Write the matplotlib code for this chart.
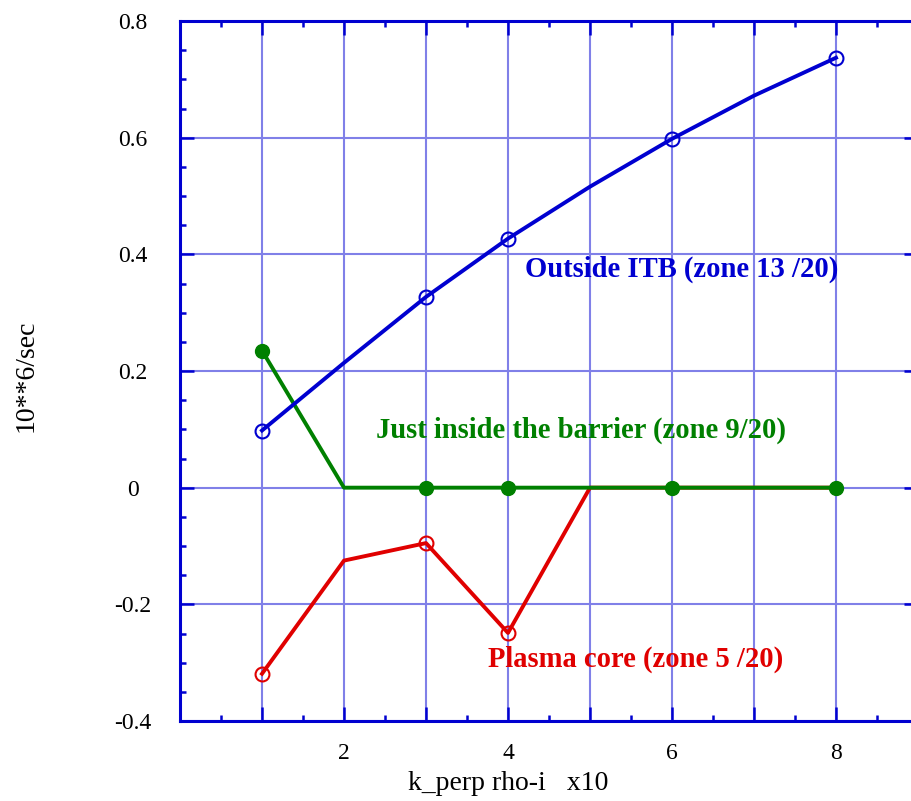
import matplotlib
matplotlib.use("Agg")
import matplotlib.pyplot as plt
from matplotlib.ticker import MultipleLocator, FuncFormatter

# growth rates vs k_perp rho-i (x10), three radial zones
k_vals = [1, 2, 3, 4, 5, 6, 7, 8]
outside_itb = [0.098, 0.214, 0.327, 0.427, 0.516, 0.598, 0.672, 0.737]
inside_barrier = [0.235, 0.0, 0.0, 0.0, 0.0, 0.0, 0.0, 0.0]
plasma_core = [-0.319, -0.125, -0.095, -0.249, 0.0, 0.0, 0.0, 0.0]

# points that carry a marker
outside_mark_k = [1, 3, 4, 6, 8]
inside_mark_k = [1, 3, 4, 6, 8]
core_mark_k = [1, 3, 4]

BLUE = "#0000d0"
GREEN = "#008000"
RED = "#e00000"
GRID = "#8080e8"

plt.rcParams["font.family"] = ["Liberation Serif", "DejaVu Serif"]

fig = plt.figure(figsize=(9.11, 8.01), dpi=100)
ax = fig.add_axes([180 / 911, 80 / 801, 738 / 911, 700 / 801])


def pick(xs, ys, keep):
    return [y for x, y in zip(xs, ys) if x in keep]


lw = 2.8
ax.plot(k_vals, plasma_core, color=RED, lw=lw, zorder=3)
ax.plot(core_mark_k, pick(k_vals, plasma_core, core_mark_k), "o", ms=10,
        mfc="none", mec=RED, mew=1.5, zorder=3)

ax.plot(k_vals, inside_barrier, color=GREEN, lw=lw, zorder=4)
ax.plot(inside_mark_k, pick(k_vals, inside_barrier, inside_mark_k), "o", ms=10,
        mfc=GREEN, mec=GREEN, zorder=4)

ax.plot(k_vals, outside_itb, color=BLUE, lw=lw, zorder=5)
ax.plot(outside_mark_k, pick(k_vals, outside_itb, outside_mark_k), "o", ms=10,
        mfc="none", mec=BLUE, mew=1.5, zorder=5)

label_size = 20.6
ax.text(4.21, 0.374, "Outside ITB (zone 13 /20)", color=BLUE, fontsize=label_size,
        fontweight="bold", ha="left", va="center", zorder=6)
ax.text(2.39, 0.098, "Just inside the barrier (zone 9/20)", color=GREEN,
        fontsize=label_size, fontweight="bold", ha="left", va="center", zorder=6)
ax.text(3.76, -0.295, "Plasma core (zone 5 /20)", color=RED, fontsize=label_size,
        fontweight="bold", ha="left", va="center", zorder=6)

ax.set_xlim(0, 9)
ax.set_ylim(-0.4, 0.8)
ax.xaxis.set_major_locator(MultipleLocator(1))
ax.xaxis.set_minor_locator(MultipleLocator(0.5))
ax.yaxis.set_major_locator(MultipleLocator(0.2))
ax.yaxis.set_minor_locator(MultipleLocator(0.05))

ax.xaxis.set_major_formatter(FuncFormatter(
    lambda v, p: f"{int(round(v))}" if round(v) in (2, 4, 6, 8) else ""))
ax.yaxis.set_major_formatter(FuncFormatter(
    lambda v, p: "0" if abs(v) < 1e-9 else f"{v:.1f}"))

ax.grid(True, which="major", color=GRID, lw=1.5)
ax.set_axisbelow(True)

for s in ax.spines.values():
    s.set_color(BLUE)
    s.set_linewidth(2.2)

ax.tick_params(which="both", direction="in", top=True, right=True,
               color=BLUE, labelsize=17, labelcolor="black")
ax.tick_params(which="major", length=10, width=1.8)
ax.tick_params(which="minor", length=4.5, width=1.8)
ax.tick_params(axis="x", which="major", pad=16)
ax.tick_params(axis="y", which="major", pad=34)
for lab in ax.get_yticklabels():
    lab.set_horizontalalignment("center")

fig.text(26 / 911, 1 - 376 / 801, "10**6/sec", rotation=90, fontsize=20,
         ha="center", va="center")
fig.text(508 / 911, 1 - 784 / 801, "k_perp rho-i   x10", fontsize=20,
         ha="center", va="center")

fig.savefig("out.png", dpi=100)
